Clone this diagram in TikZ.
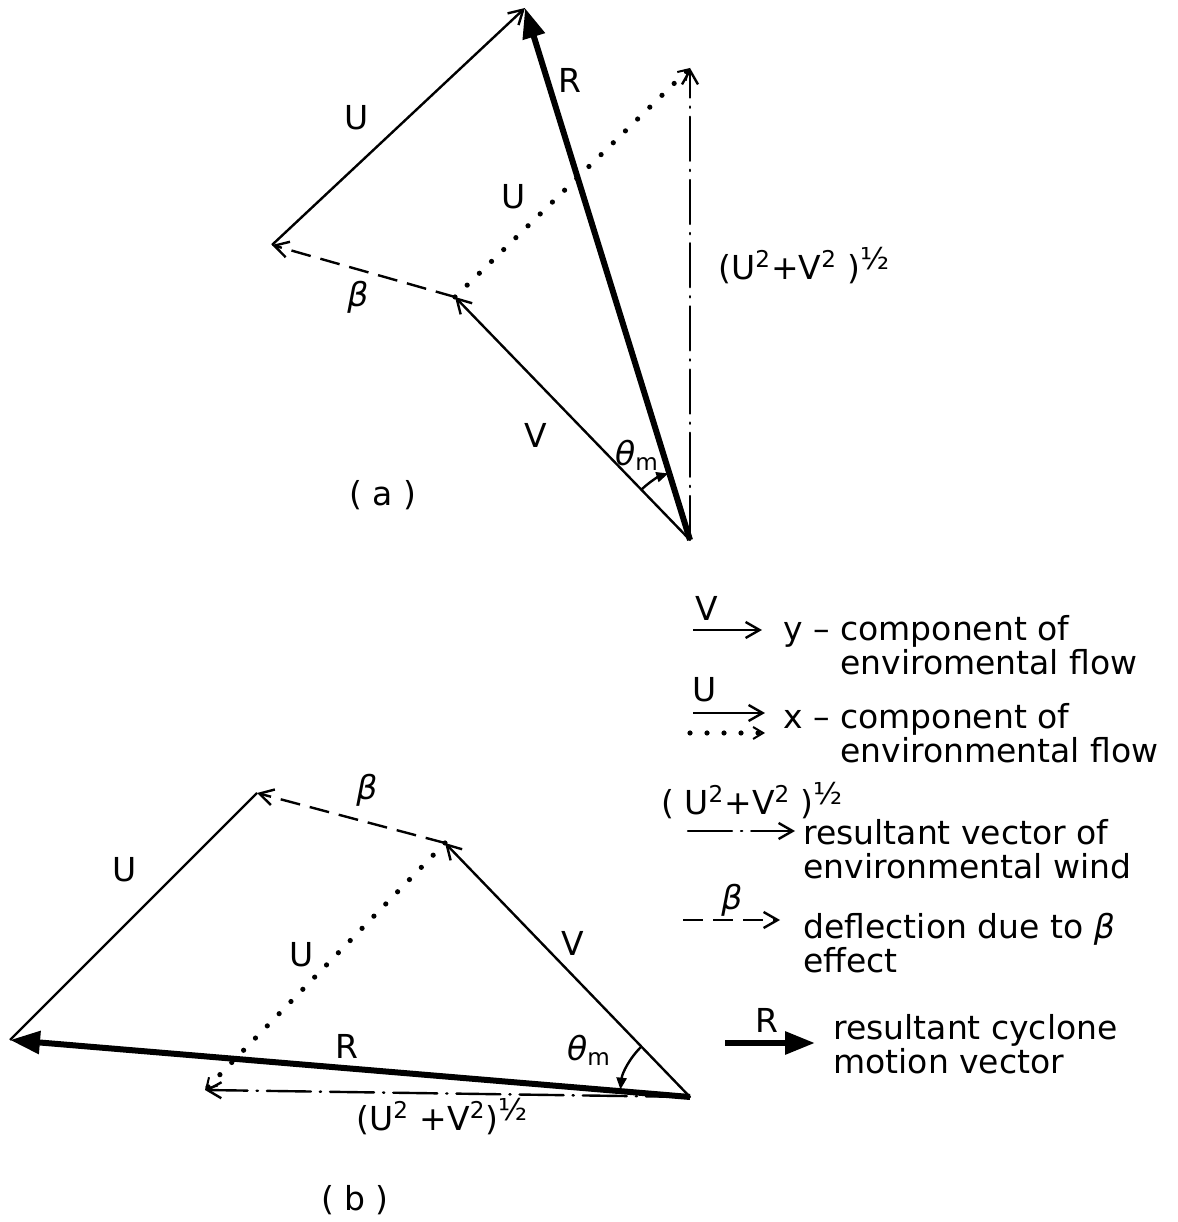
\documentclass[tikz,border=0pt]{standalone}
\usepackage{fontspec}
\setmainfont{DejaVu Sans}
\usetikzlibrary{arrows.meta, calc}

\newcommand{\halfpow}{\raisebox{0.55ex}{\fontsize{15}{15}\selectfont ½}}

\begin{document}
\begin{tikzpicture}[
  x=0.5pt, y=0.5pt,
  font=\fontsize{16.5}{17}\selectfont,
  vec/.style={line width=1.2pt, -{Straight Barb[length=7pt, width=8pt, line width=1.2pt]}},
  resvec/.style={line width=3pt, -{Triangle[length=15pt, width=11pt]}},
  betavec/.style={vec, dash pattern=on 10pt off 5pt},
  dotvec/.style={line width=2.6pt, line cap=round, dash pattern=on 0pt off 8.5pt,
    -{Straight Barb[length=5pt, width=6pt, line width=1pt]}},
  envvec/.style={vec, line cap=round, dash pattern=on 22pt off 4.5pt on 0.6pt off 4.5pt},
  angarc/.style={line width=1.2pt, -{Triangle[length=6pt, width=5pt]}},
  lbl/.style={inner sep=1pt},
  legtext/.style={anchor=west, align=left, inner sep=0pt}
]
\useasboundingbox (0,0) rectangle (1178,1222);

% (a)
\coordinate (Oa) at (690,682);
\coordinate (Va) at (455,925);
\coordinate (Ba) at (272,977);
\coordinate (Ra) at (525,1214);
\coordinate (Da) at (690,1154);

\draw [vec] (Oa) -- (Va);
\draw [betavec] (Va) -- (Ba);
\draw [vec] (Ba) -- (Ra);
\draw [dotvec] (Va) -- (Da);
\draw [envvec] (Oa) -- (Da);
\draw [resvec] (Oa) -- (Ra);
\draw [angarc] ($(Oa)+(134:70)$) arc[start angle=134, end angle=108, radius=70];

\node (Ua) [lbl] at (357,1104) {U};
\node (Rla) [lbl] at (570,1142) {R};
\node (Uda) [lbl] at (514,1025) {U};
\node (betaa) [lbl] at (358,925) {\itshape β};
\node (enva) [lbl] at (804,956) {(U\textsuperscript{2}+V\textsuperscript{2} )\halfpow};
\node (Vla) [lbl] at (536,787) {V};
\node (tha) [lbl] at (637,767) {{\itshape θ}\textsubscript{m}};
\node (capa) [lbl] at (383,727) {( a )};

% (b)
\coordinate (Ob) at (690,125);
\coordinate (Vb) at (445,379);
\coordinate (Bb) at (257,429);
\coordinate (Rb) at (10,182);
\coordinate (Db) at (205,132);

\draw [vec] (Ob) -- (Vb);
\draw [betavec] (Vb) -- (Bb);
\draw [line width=1.2pt] (Bb) -- (Rb);
\draw [dotvec] (Vb) -- (Db);
\draw [envvec] (Ob) -- (Db);
\draw [resvec] (Ob) -- (Rb);
\draw [angarc] ($(Ob)+(134:70)$) arc[start angle=134, end angle=174, radius=70];

\node (betab) [lbl] at (367,432) {\itshape β};
\node (Ub) [lbl] at (125,352) {U};
\node (Udb) [lbl] at (302,267) {U};
\node (Vlb) [lbl] at (573,279) {V};
\node (Rlb) [lbl] at (347,176) {R};
\node (thb) [lbl] at (589,172) {{\itshape θ}\textsubscript{m}};
\node (envb) [lbl] at (442,105) {(U\textsuperscript{2} +V\textsuperscript{2})\halfpow};
\node (capb) [lbl] at (355,22) {( b )};

% legend
\coordinate (l1s) at (693,592);
\coordinate (l1e) at (762,592);
\draw [vec] (l1s) -- (l1e);
\node (l1lab) [lbl] at (707,614) {V};
\node (l1txt) [legtext] at (783,577) {y – component of\\ \hphantom{y – }enviromental flow};

\coordinate (l2s) at (693,509);
\coordinate (l2e) at (765,509);
\coordinate (l2ds) at (690,489);
\coordinate (l2de) at (765,489);
\draw [vec] (l2s) -- (l2e);
\draw [dotvec] (l2ds) -- (l2de);
\node (l2lab) [lbl] at (705,532) {U};
\node (l2txt) [legtext] at (783,489) {x – component of\\ \hphantom{x – }environmental flow};

\coordinate (l3s) at (688,391);
\coordinate (l3e) at (795,391);
\draw [envvec] (l3s) -- (l3e);
\node (l3lab) [lbl] at (752,421) {( U\textsuperscript{2}+V\textsuperscript{2} )\halfpow};
\node (l3txt) [legtext] at (803,373) {resultant vector of\\ environmental wind};

\coordinate (l4s) at (683,302);
\coordinate (l4e) at (780,302);
\draw [betavec] (l4s) -- (l4e);
\node (l4lab) [lbl] at (732,322) {\itshape β};
\node (l4txt) [legtext] at (803,279) {deflection due to {\itshape β}\\ effect};

\coordinate (l5s) at (725,179);
\coordinate (l5e) at (815,179);
\draw [resvec] (l5s) -- (l5e);
\node (l5lab) [lbl] at (767,202) {R};
\node (l5txt) [legtext] at (833,178) {resultant cyclone\\ motion vector};

\end{tikzpicture}
\end{document}
